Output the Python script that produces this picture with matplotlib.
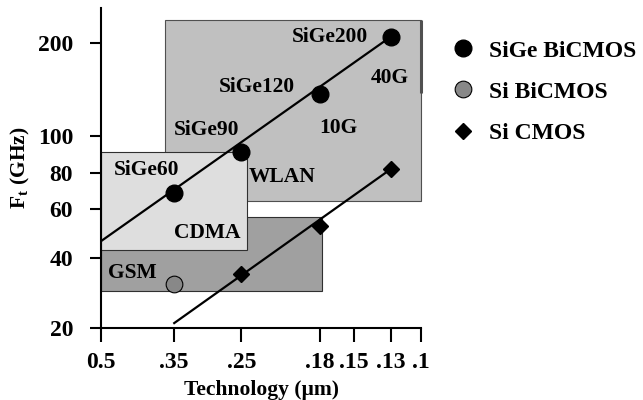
import numpy as np
import matplotlib.pyplot as plt
from matplotlib.lines import Line2D
from matplotlib.patches import Rectangle

plt.rcParams["font.family"] = ["Liberation Serif", "DejaVu Serif"]
plt.rcParams["font.weight"] = "bold"
plt.rcParams["mathtext.fontset"] = "custom"
plt.rcParams["mathtext.bf"] = "Liberation Serif:bold"
plt.rcParams["mathtext.rm"] = "Liberation Serif:bold"

# technology nodes (um) and cutoff frequency axis ticks (GHz)
node_ticks = [0.5, 0.35, 0.25, 0.18, 0.15, 0.13, 0.1]
node_labels = ["0.5", ".35", ".25", ".18", ".15", ".13", ".1"]
ft_ticks = [20, 40, 60, 80, 100, 200]

# measured devices
sige_nodes = [0.35, 0.25, 0.18, 0.13]
sige_ft = [68, 91, 137, 210]
sige_names = ["SiGe60", "SiGe90", "SiGe120", "SiGe200"]
sibicmos_nodes = [0.35]
sibicmos_ft = [31]
cmos_nodes = [0.25, 0.18, 0.13]
cmos_ft = [34, 52, 82]

# trend lines (start, end)
sige_trend_nodes = [0.5, 0.13]
sige_trend_ft = [46, 210]
cmos_trend_nodes = [0.35, 0.13]
cmos_trend_ft = [21, 82]

# application regions: node range, ft range
wireline_nodes = [0.366, 0.1]
wireline_ft = [64, 237]
cdma_nodes = [0.5, 0.244]
cdma_ft = [42.8, 90.7]
gsm_nodes = [0.5, 0.178]
gsm_ft = [28.9, 56.1]

# the axes use an uneven, hand-spaced grid: map tick values onto their positions
x_log = np.log10([0.05] + node_ticks[::-1] + [1.0])
x_pos = -np.array([511, 421, 391, 354, 320, 242, 175, 102, -38], dtype=float)
y_log = np.log10([10] + ft_ticks + [1000])
y_pos = -np.array([398, 328, 258, 209, 173, 136, 43, -173], dtype=float)


def x_fwd(v):
    return np.interp(np.log10(np.clip(v, 1e-6, None)), x_log, x_pos)


def x_inv(p):
    return 10 ** np.interp(p, x_pos, x_log)


def y_fwd(v):
    return np.interp(np.log10(np.clip(v, 1e-6, None)), y_log, y_pos)


def y_inv(p):
    return 10 ** np.interp(p, y_pos, y_log)


fig = plt.figure(figsize=(6.43, 4.0), dpi=100)
ax = fig.add_axes([101 / 643, 1 - 328 / 400, 320 / 643, 320 / 400])
ax.set_xscale("function", functions=(x_fwd, x_inv))
ax.set_yscale("function", functions=(y_fwd, y_inv))
ax.set_xlim(0.5, 0.1)
ax.set_ylim(20, 260)

# shaded application bands
ax.add_patch(Rectangle((wireline_nodes[0], wireline_ft[0]),
                       wireline_nodes[1] - wireline_nodes[0], wireline_ft[1] - wireline_ft[0],
                       facecolor="#c0c0c0", edgecolor="#505050", lw=0.8, zorder=1, clip_on=False))
ax.plot([wireline_nodes[1]] * 2, [138, wireline_ft[1]], color="#505050", lw=2.2,
        zorder=1.5, clip_on=False, solid_capstyle="butt")
ax.add_patch(Rectangle((gsm_nodes[0], gsm_ft[0]),
                       gsm_nodes[1] - gsm_nodes[0], gsm_ft[1] - gsm_ft[0],
                       facecolor="#a0a0a0", edgecolor="#303030", lw=0.8, zorder=1))
ax.add_patch(Rectangle((cdma_nodes[0], cdma_ft[0]),
                       cdma_nodes[1] - cdma_nodes[0], cdma_ft[1] - cdma_ft[0],
                       facecolor="#dedede", edgecolor="#303030", lw=0.8, zorder=2))

# trend lines
ax.plot(sige_trend_nodes, sige_trend_ft, color="black", lw=1.6, zorder=3)
ax.plot(cmos_trend_nodes, cmos_trend_ft, color="black", lw=1.6, zorder=3)

# device points
ax.plot(sige_nodes, sige_ft, "o", color="black", ms=12, zorder=4, clip_on=False)
ax.plot(sibicmos_nodes, sibicmos_ft, "o", mfc="#888888", mec="black", mew=0.8, ms=12, zorder=4)
ax.plot(cmos_nodes, cmos_ft, "D", color="black", ms=8.5, zorder=4)

# text labels
label_kw = dict(ha="center", va="center", fontsize=15.5, fontweight="bold", zorder=5)
name_pos = [(0.401, 81.5), (0.298, 105), (0.2347, 144), (0.1706, 209)]
for name, (xn, yf) in zip(sige_names, name_pos):
    ax.text(xn, yf, name, **label_kw)
ax.text(0.1306, 154, "40G", **label_kw)
ax.text(0.163, 106, "10G", **label_kw)
ax.text(0.2105, 77.4, "WLAN", **label_kw)
ax.text(0.2965, 49.2, "CDMA", **label_kw)
ax.text(0.43, 34.4, "GSM", **label_kw)

# axes styling
for side in ["top", "right"]:
    ax.spines[side].set_visible(False)
for side in ["left", "bottom"]:
    ax.spines[side].set_linewidth(1.5)
ax.set_xticks(node_ticks)
ax.set_xticklabels(node_labels)
ax.set_yticks(ft_ticks)
ax.set_yticklabels([str(v) for v in ft_ticks])
ax.minorticks_off()
ax.tick_params(axis="y", length=8, width=1.5, pad=12, labelsize=17)
ax.tick_params(axis="x", length=10, width=1.5, pad=7, labelsize=17)
ax.set_xlabel("Technology (\u00b5m)", fontsize=15.5, fontweight="bold", labelpad=5)
ax.set_ylabel(r"$\mathbf{F_t}$ (GHz)", fontsize=15.5, fontweight="bold", labelpad=4)

handles = [
    Line2D([], [], ls="none", marker="o", color="black", ms=12),
    Line2D([], [], ls="none", marker="o", mfc="#888888", mec="black", mew=0.8, ms=12),
    Line2D([], [], ls="none", marker="D", color="black", ms=8.5),
]
fig.legend(handles, ["SiGe BiCMOS", "Si BiCMOS", "Si CMOS"],
           loc="upper left", bbox_to_anchor=(451 / 643, 1 - 40 / 400),
           frameon=False, prop={"size": 17, "weight": "bold"},
           handlelength=1.0, handletextpad=0.62, labelspacing=0.83,
           borderaxespad=0, borderpad=0)

fig.savefig("out.png", dpi=100)
